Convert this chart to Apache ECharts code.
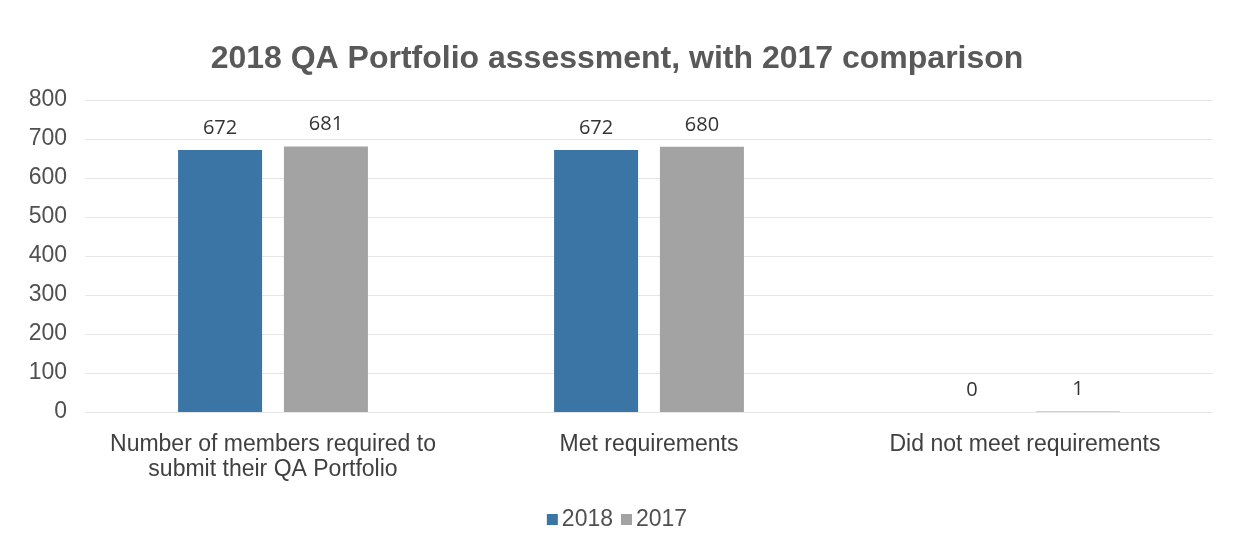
<!DOCTYPE html>
<html>
<head>
<meta charset="utf-8">
<script src="https://cdn.jsdelivr.net/npm/echarts@6/dist/echarts.min.js"></script>
<style>
  html, body { margin: 0; padding: 0; background: #fff; }
  #chart { width: 1234px; height: 554px; }
</style>
</head>
<body>
<div id="chart"></div>
<script>
// chart data
var categories = [
  "Number of members required to\nsubmit their QA Portfolio",
  "Met requirements",
  "Did not meet requirements"
];
var values2018 = [672, 672, 0];
var values2017 = [681, 680, 1];
var yTicks = [0, 100, 200, 300, 400, 500, 600, 700, 800];

var myChart = echarts.init(document.getElementById("chart"));

var labelStyle = {
  show: true,
  position: "top",
  distance: 12,
  fontFamily: "Open Sans",
  fontSize: 20,
  color: "#333333"
};

var option = {
  animation: false,
  title: {
    text: "2018 QA Portfolio assessment, with 2017 comparison",
    left: "center",
    top: 38,
    textStyle: {
      fontFamily: "Liberation Sans",
      fontSize: 32,
      fontWeight: "bold",
      color: "#595959"
    }
  },
  legend: {
    bottom: 18,
    left: "center",
    itemWidth: 11,
    itemHeight: 11,
    itemGap: 8,
    icon: "rect",
    textStyle: {
      fontFamily: "Liberation Sans",
      fontSize: 23,
      color: "#505050",
      padding: [0, 0, 0, -1]
    },
    data: ["2018", "2017"]
  },
  grid: {
    left: 85,
    right: 21,
    top: 100,
    bottom: 142,
    containLabel: false
  },
  xAxis: {
    type: "category",
    data: categories,
    axisLine: { show: false },
    axisTick: { show: false },
    axisLabel: {
      interval: 0,
      hideOverlap: false,
      margin: 20,
      fontFamily: "Liberation Sans",
      fontSize: 23,
      lineHeight: 25,
      color: "#404040"
    }
  },
  yAxis: {
    type: "value",
    min: yTicks[0],
    max: yTicks[yTicks.length - 1],
    interval: 100,
    axisLine: { show: false },
    axisTick: { show: false },
    axisLabel: {
      margin: 18,
      fontFamily: "Liberation Sans",
      fontSize: 23,
      color: "#505050"
    },
    splitLine: {
      lineStyle: { color: "#e6e6e6", width: 1 }
    }
  },
  series: [
    {
      name: "2018",
      type: "bar",
      data: values2018,
      barWidth: 84,
      barGap: "26%",
      itemStyle: { color: "#3a75a5" },
      label: labelStyle
    },
    {
      name: "2017",
      type: "bar",
      data: values2017,
      barWidth: 84,
      itemStyle: { color: "#a3a3a3" },
      label: labelStyle
    }
  ]
};

myChart.setOption(option);
</script>
</body>
</html>
